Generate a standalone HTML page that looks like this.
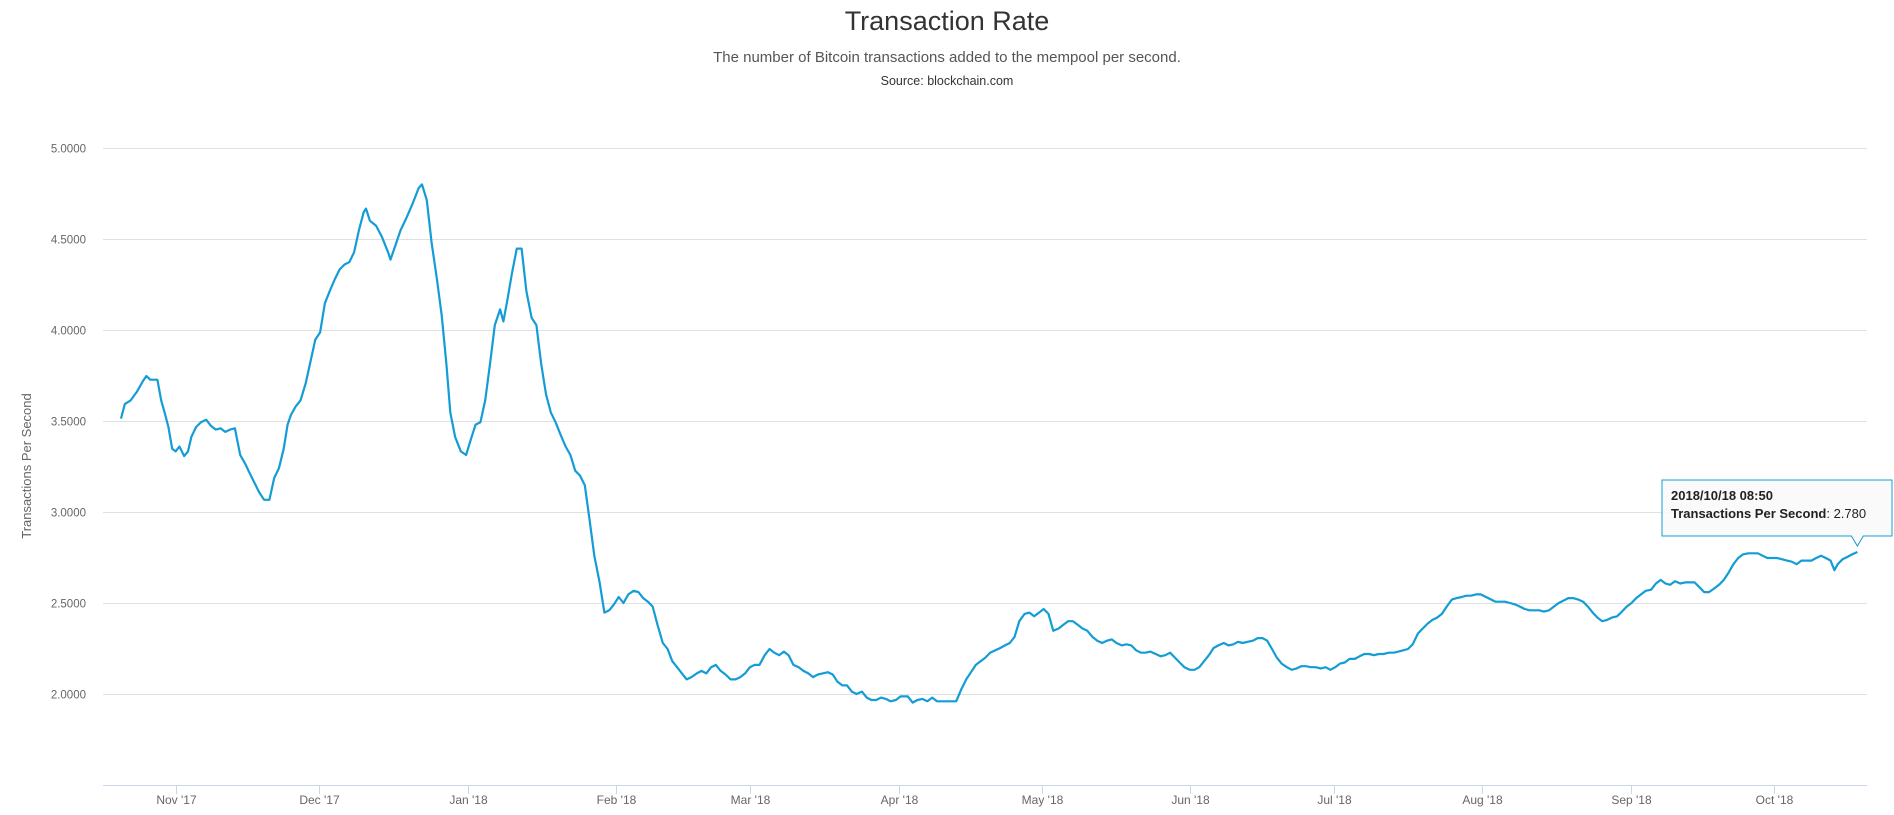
<!DOCTYPE html>
<html><head><meta charset="utf-8"><style>
body{margin:0;background:#fff;font-family:"Liberation Sans",sans-serif;}
svg text{font-family:"Liberation Sans",sans-serif;}
</style></head><body>
<svg id="chart" width="1894" height="810" xmlns="http://www.w3.org/2000/svg">
<text x="947" y="30" text-anchor="middle" font-size="27" fill="#333">Transaction Rate</text>
<text x="947" y="62" text-anchor="middle" font-size="15" fill="#555">The number of Bitcoin transactions added to the mempool per second.</text>
<text x="947" y="85" text-anchor="middle" font-size="12.5" fill="#333">Source: blockchain.com</text>
<g id="grid"></g><g id="xaxis"></g><g id="series"></g><g id="tip"></g>
<text transform="translate(31,466) rotate(-90)" text-anchor="middle" font-size="13" fill="#666">Transactions Per Second</text>
</svg>
<script>
const days=[0,0.8,2.0,3.3,4.6,5.3,6.1,7.6,8.4,9.1,9.9,10.7,11.4,12.2,13.2,14.0,14.7,15.7,16.7,17.8,18.8,19.8,20.8,21.8,22.8,23.8,24.9,25.9,26.9,27.9,28.9,29.9,31.0,32.0,33.0,34.0,34.8,35.5,36.5,37.5,38.6,39.6,40.6,41.6,42.6,43.6,44.7,45.7,46.7,47.7,48.7,49.7,50.7,51.2,52.0,53.3,54.5,55.8,56.3,57.1,58.4,59.6,60.9,62.2,62.9,63.9,64.9,66.0,67.0,68.0,68.8,69.8,71.0,72.1,73.1,74.1,75.1,76.1,77.1,78.1,79.2,79.9,80.7,81.7,82.7,83.7,84.7,85.8,86.8,87.8,88.8,89.8,90.8,91.8,92.9,93.9,94.9,95.9,96.9,97.9,98.9,100.0,101.0,102.0,103.0,104.0,105.0,106.0,107.1,108.1,109.1,110.1,111.1,112.1,113.2,114.2,115.2,116.2,117.2,118.2,119.2,120.3,121.3,122.3,123.3,124.3,125.3,126.3,127.4,128.4,129.4,130.4,131.4,132.4,133.4,134.5,135.5,136.5,137.5,138.5,139.5,140.5,141.6,142.6,143.6,144.6,145.6,146.6,147.7,148.7,149.7,150.7,151.7,152.7,153.7,154.8,155.8,156.8,157.8,158.8,159.8,160.8,161.9,162.9,164.4,165.4,166.4,167.4,168.5,169.5,170.5,171.5,172.5,173.5,174.5,175.6,176.6,177.6,178.6,179.6,180.6,181.6,182.7,183.7,184.7,185.7,186.7,187.7,188.8,189.8,190.8,191.8,192.8,193.8,194.8,195.9,196.9,197.9,198.9,199.9,200.9,201.9,203.0,204.0,205.0,206.0,207.0,208.0,209.1,210.1,211.1,212.1,213.1,214.1,215.1,216.2,217.2,218.2,219.2,220.2,221.2,222.2,223.3,224.3,225.3,226.3,227.3,228.3,229.3,230.4,231.4,232.4,233.4,234.4,235.4,236.5,237.5,238.5,239.5,240.5,241.5,242.5,243.6,244.6,245.6,246.6,247.6,248.6,249.6,250.7,251.7,252.7,253.7,254.7,255.7,256.7,257.8,258.8,259.8,260.8,261.8,262.8,263.8,264.9,265.9,266.9,267.9,268.9,269.9,271.0,272.0,273.0,274.0,275.0,276.0,277.0,278.1,279.1,280.1,281.1,282.1,283.1,284.1,285.2,286.2,287.2,288.2,289.2,290.2,291.2,292.3,293.3,294.3,295.3,296.3,297.3,298.4,299.4,300.4,301.4,302.4,303.4,304.4,305.5,306.5,307.5,308.5,309.5,310.5,311.5,312.6,313.6,314.6,315.6,316.6,317.6,318.6,319.7,320.7,321.7,322.7,323.7,324.7,325.8,326.8,327.8,328.8,329.8,330.8,331.8,332.9,333.9,334.9,335.9,336.9,337.9,338.9,340.0,341.0,342.0,343.0,344.0,345.0,346.0,347.1,348.1,349.1,350.1,351.1,352.1,353.2,354.2,355.2,356.2,357.2,358.0,358.7,359.7,360.7,361.7,362.8];
const values=[3.513,3.593,3.613,3.660,3.720,3.747,3.727,3.727,3.613,3.547,3.467,3.347,3.333,3.360,3.307,3.333,3.413,3.467,3.493,3.507,3.473,3.453,3.460,3.440,3.453,3.460,3.313,3.267,3.213,3.160,3.107,3.067,3.067,3.187,3.240,3.347,3.480,3.533,3.580,3.613,3.707,3.827,3.947,3.987,4.147,4.213,4.280,4.333,4.360,4.373,4.427,4.547,4.647,4.667,4.600,4.573,4.513,4.427,4.387,4.447,4.547,4.613,4.693,4.780,4.800,4.713,4.480,4.280,4.080,3.813,3.547,3.413,3.333,3.313,3.400,3.480,3.493,3.613,3.813,4.027,4.113,4.047,4.160,4.313,4.447,4.447,4.213,4.067,4.027,3.813,3.647,3.547,3.493,3.427,3.360,3.313,3.227,3.200,3.147,2.960,2.760,2.613,2.447,2.460,2.493,2.533,2.500,2.547,2.567,2.560,2.527,2.507,2.480,2.380,2.280,2.247,2.180,2.147,2.113,2.080,2.093,2.113,2.127,2.113,2.147,2.160,2.127,2.107,2.080,2.080,2.093,2.113,2.147,2.160,2.160,2.213,2.247,2.227,2.213,2.233,2.213,2.160,2.147,2.127,2.113,2.093,2.107,2.113,2.120,2.107,2.067,2.047,2.047,2.013,2.000,2.013,1.980,1.967,1.967,1.980,1.973,1.960,1.967,1.987,1.987,1.953,1.967,1.973,1.960,1.980,1.960,1.960,1.960,1.960,1.960,2.027,2.080,2.120,2.160,2.180,2.200,2.227,2.240,2.253,2.267,2.280,2.313,2.400,2.440,2.447,2.427,2.447,2.467,2.440,2.347,2.360,2.380,2.400,2.400,2.380,2.360,2.347,2.313,2.293,2.280,2.293,2.300,2.280,2.267,2.273,2.267,2.240,2.227,2.227,2.233,2.220,2.207,2.213,2.227,2.200,2.173,2.147,2.133,2.133,2.147,2.180,2.213,2.253,2.267,2.280,2.267,2.273,2.287,2.280,2.287,2.293,2.307,2.307,2.293,2.247,2.200,2.167,2.147,2.133,2.140,2.153,2.153,2.147,2.147,2.140,2.147,2.133,2.147,2.167,2.173,2.193,2.193,2.207,2.220,2.220,2.213,2.220,2.220,2.227,2.227,2.233,2.240,2.247,2.273,2.333,2.360,2.387,2.407,2.420,2.440,2.480,2.520,2.527,2.533,2.540,2.540,2.547,2.547,2.533,2.520,2.507,2.507,2.507,2.500,2.493,2.480,2.467,2.460,2.460,2.460,2.453,2.460,2.480,2.500,2.513,2.527,2.527,2.520,2.507,2.480,2.447,2.420,2.400,2.407,2.420,2.427,2.453,2.480,2.500,2.527,2.547,2.567,2.573,2.607,2.627,2.607,2.600,2.620,2.607,2.613,2.613,2.613,2.587,2.560,2.560,2.580,2.600,2.627,2.667,2.713,2.747,2.767,2.773,2.773,2.773,2.760,2.747,2.747,2.747,2.740,2.733,2.727,2.713,2.733,2.733,2.733,2.747,2.760,2.747,2.733,2.680,2.713,2.740,2.753,2.767,2.780];
const yTicks=[2.0,2.5,3.0,3.5,4.0,4.5,5.0];
const xTickLabels=["Nov '17","Dec '17","Jan '18","Feb '18","Mar '18","Apr '18","May '18","Jun '18","Jul '18","Aug '18","Sep '18","Oct '18"];
const xTickMonths=[[2017,10],[2017,11],[2018,0],[2018,1],[2018,2],[2018,3],[2018,4],[2018,5],[2018,6],[2018,7],[2018,8],[2018,9]];
const tooltipDate="2018/10/18 08:50";

const NS="http://www.w3.org/2000/svg";
const L=103,R=1867,T=148,B=785,yMin=1.5,yMax=5.0;
const t0=Date.UTC(2017,9,20,13);
const xOfDay=d=>121+d*4.786;
const yOf=v=>B-(v-yMin)/(yMax-yMin)*(B-T);
function mk(tag,attrs,parent){const e=document.createElementNS(NS,tag);for(const k in attrs)e.setAttribute(k,attrs[k]);parent.appendChild(e);return e;}
const grid=document.getElementById('grid');
yTicks.forEach(v=>{
  const y=Math.round(yOf(v))+0.5;
  const ln=mk('line',{x1:L,x2:R,y1:y,y2:y,stroke:'#e0e0e0','stroke-width':1},grid);
  
  
  const t=mk('text',{x:86,y:y+4,'text-anchor':'end','font-size':11.5,fill:'#666'},grid);
  t.textContent=v.toFixed(4);
  
  
});
const xa=document.getElementById('xaxis');
const ax=mk('line',{x1:L,x2:R,y1:B+0.5,y2:B+0.5,stroke:'#ccd6eb','stroke-width':1},xa);


xTickMonths.forEach((m,i)=>{
  const d=(Date.UTC(m[0],m[1],1)-t0)/86400000;
  const x=Math.round(xOfDay(d))+0.5;
  const tk=mk('line',{x1:x,x2:x,y1:B,y2:B+9,stroke:'#ccd6eb','stroke-width':1},xa);
  
  
  const t=mk('text',{x:x,y:804,'text-anchor':'middle','font-size':12,fill:'#666'},xa);
  t.textContent=xTickLabels[i];
  
  
});
const sg=document.getElementById('series');
let dstr='';
days.forEach((d,i)=>{dstr+=(i?'L':'M')+xOfDay(d).toFixed(1)+','+yOf(values[i]).toFixed(1);});
const p=mk('path',{d:dstr,fill:'none',stroke:'#139cd6','stroke-width':2.2,'stroke-linejoin':'round'},sg);


// tooltip
const tg=document.getElementById('tip');
const li=values.length-1;
const px=xOfDay(days[li]),py=yOf(values[li]);
const bx=1662,by=480,bw=230,bh=56;
const box=mk('path',{d:`M${bx},${by}H${bx+bw}V${by+bh}H${px+6}L${px},${py-6}L${px-6},${by+bh}H${bx}Z`,fill:'rgba(250,250,250,0.9)',stroke:'#139cd6','stroke-width':1},tg);


const t1=mk('text',{x:bx+9,y:by+20,'font-size':13,'font-weight':'bold',fill:'#222'},tg);
t1.textContent=tooltipDate;


const t2=mk('text',{x:bx+9,y:by+38,'font-size':13,fill:'#222'},tg);


const b=mk('tspan',{'font-weight':'bold'},t2);b.textContent='Transactions Per Second';
const s=mk('tspan',{},t2);s.textContent=': '+values[li].toFixed(3);
</script>
</body></html>
